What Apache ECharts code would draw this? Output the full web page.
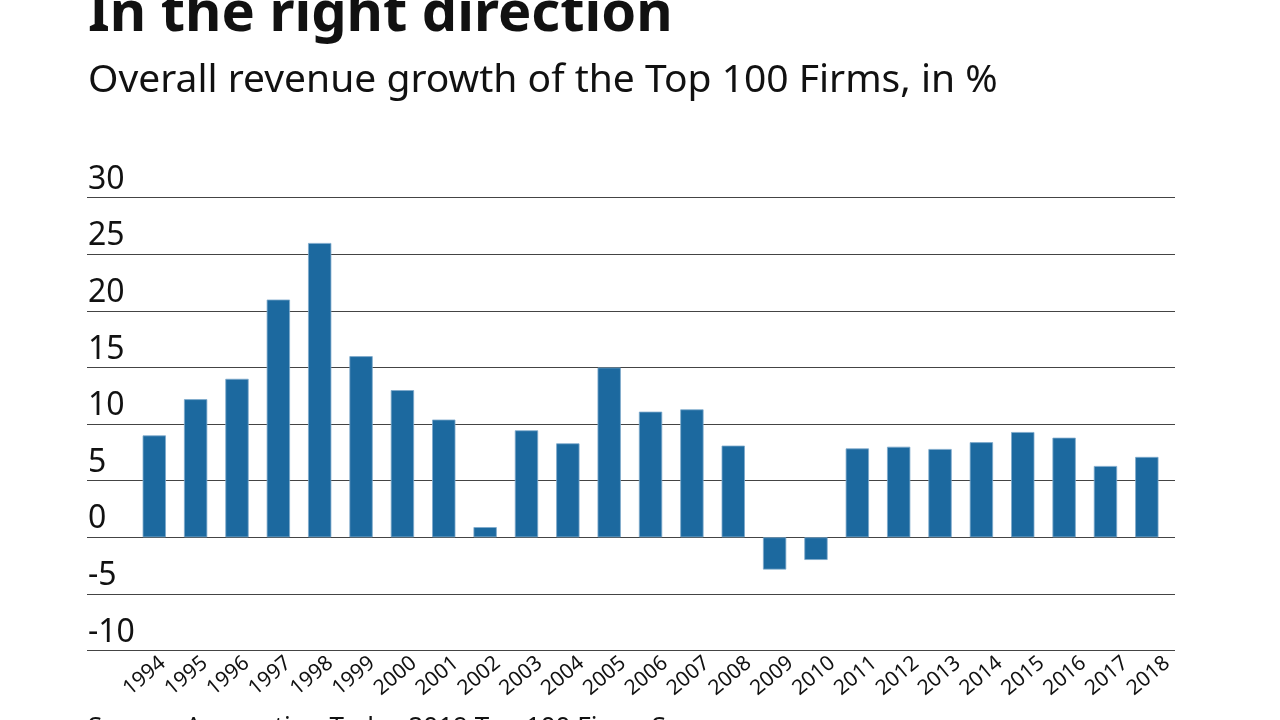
<!DOCTYPE html>
<html>
<head>
<meta charset="utf-8">
<script src="https://cdn.jsdelivr.net/npm/echarts@6/dist/echarts.min.js"></script>
<style>
html,body{margin:0;padding:0;background:#fff;}
#chart{width:1280px;height:720px;}
</style>
</head>
<body>
<div id="chart"></div>
<script>
const years = ['1994','1995','1996','1997','1998','1999','2000','2001','2002','2003','2004','2005','2006','2007','2008','2009','2010','2011','2012','2013','2014','2015','2016','2017','2018'];
const growth = [9.0,12.2,14.0,21.0,26.0,16.0,13.0,10.4,0.9,9.45,8.3,15.0,11.1,11.3,8.1,-2.85,-2.0,7.85,8.0,7.8,8.4,9.3,8.8,6.3,7.1];
const yMin = -10, yMax = 30, yStep = 5;
const titleText = 'In the right direction';
const subtitleText = 'Overall revenue growth of the Top 100 Firms, in %';
const sourceText = 'Source: Accounting Today 2019 Top 100 Firms Survey';

const FONT = '"Noto Sans", sans-serif';
const chart = echarts.init(document.getElementById('chart'), null, {renderer:'canvas'});
const gTop = 197.7, gBottom = 720 - 650.5;
const yAxisBase = {type:'value', min:yMin, max:yMax, interval:yStep};
chart.setOption({
  animation:false,
  backgroundColor:'#fff',
  grid:[
    {left:87, right:105, top:gTop, bottom:gBottom},
    {left:133.6, right:112.5, top:gTop, bottom:gBottom},
    {left:142, right:92, top:gTop, bottom:gBottom}
  ],
  xAxis:[
    {gridIndex:0, type:'value', show:false},
    {gridIndex:1, type:'category', data:years, axisLine:{show:false}, axisTick:{show:false}, axisLabel:{show:false}},
    {gridIndex:2, type:'category', data:years, axisLine:{show:false}, axisTick:{show:false},
      axisLabel:{rotate:40, margin:10, fontSize:21, color:'#111', fontFamily:FONT, interval:0}}
  ],
  yAxis:[
    Object.assign({gridIndex:0, axisLine:{show:false}, axisTick:{show:false},
      splitLine:{show:true, lineStyle:{color:'#444', width:1.2}},
      axisLabel:{inside:true, margin:1, align:'left', verticalAlign:'bottom', padding:[0,0,2,0],
        fontSize:32, color:'#111', fontFamily:FONT}}, yAxisBase),
    Object.assign({gridIndex:1, show:false, splitLine:{show:false}}, yAxisBase),
    Object.assign({gridIndex:2, show:false, splitLine:{show:false}}, yAxisBase)
  ],
  series:[{
    type:'bar', xAxisIndex:1, yAxisIndex:1, data:growth, barWidth:23.3,
    itemStyle:{color:'#1c699f', borderColor:'#7ea9cb', borderWidth:0.8}
  }],
  graphic:[
    {type:'text', left:88, top:-13, style:{text:titleText, font:'bold 56px '+FONT, fill:'#111'}},
    {type:'text', left:88, top:61, style:{text:subtitleText, font:'39px '+FONT, fill:'#111'}},
    {type:'text', left:88, top:715, style:{text:sourceText, font:'26px '+FONT, fill:'#111'}}
  ]
});
</script>
</body>
</html>
